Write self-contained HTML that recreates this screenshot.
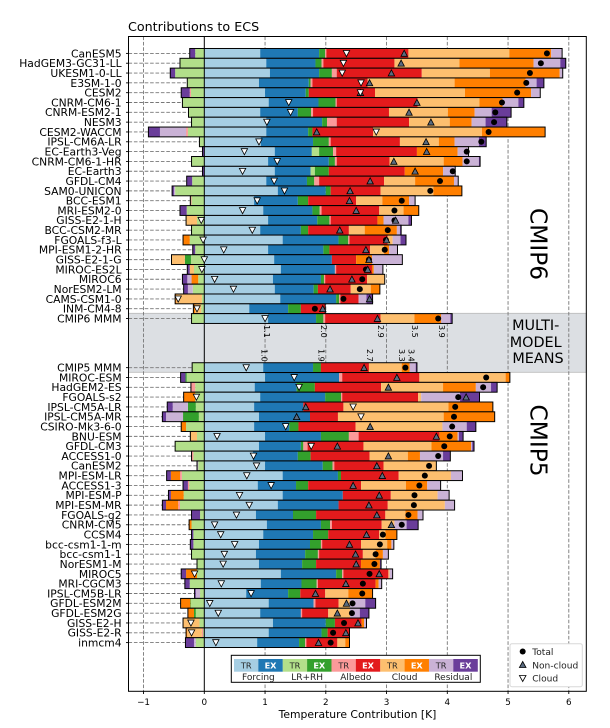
<!DOCTYPE html>
<html lang="en">
<head>
<meta charset="utf-8">
<title>Contributions to ECS</title>
<style>
html,body{margin:0;padding:0;background:#fff;width:610px;height:728px;overflow:hidden}
svg{display:block;font-family:"DejaVu Sans","Liberation Sans",sans-serif}
</style>
</head>
<body>
<svg id="chart" xmlns="http://www.w3.org/2000/svg" width="610" height="728" viewBox="0 0 610 728">
<rect x="0" y="0" width="610" height="728" fill="#fff"/>
<rect x="128.5" y="313.3" width="457.8" height="59" fill="#dcdfe3" stroke="#b8b8b8" stroke-width="0.8"/>
<g id="grid"></g>
<g id="bars"></g>
<g id="zero"></g>
<g id="marks"></g>
<g id="annot"></g>
<rect x="128.5" y="36.5" width="457.8" height="654.8" fill="none" stroke="#000" stroke-width="1"/>
<g id="axes"></g>
<text x="128" y="31" font-size="12.7" fill="#000">Contributions to ECS</text>
<text x="357.5" y="718" font-size="10.8" text-anchor="middle" fill="#000">Temperature Contribution [K]</text>
<text transform="translate(530.5,244) rotate(90)" font-size="23.3" text-anchor="middle" fill="#000">CMIP6</text>
<text transform="translate(530.5,440.5) rotate(90)" font-size="23.3" text-anchor="middle" fill="#000">CMIP5</text>
<text font-size="14.4" text-anchor="middle" fill="#000">
<tspan x="538" y="330">MULTI-</tspan>
<tspan x="538" y="347">MODEL</tspan>
<tspan x="538" y="363">MEANS</tspan>
</text>
<g id="key">
<rect x="231.3" y="655.3" width="249" height="27" fill="#fff" stroke="#000" stroke-width="1"/>
</g>
<g>
<rect x="510" y="643.7" width="72.3" height="43" rx="2" fill="#fff" stroke="#d8d8d8" stroke-width="1"/>
<circle cx="522.7" cy="651.5" r="3" fill="#000"/>
<polygon points="522.7,661.5 526,667.5 519.4,667.5" fill="#5a6b80" stroke="#000" stroke-width="0.8"/>
<polygon points="519.4,675.5 526,675.5 522.7,681.5" fill="#fff" stroke="#000" stroke-width="0.8"/>
<text x="532.2" y="655" font-size="9.1" fill="#222">Total</text>
<text x="532.2" y="668.3" font-size="9.1" fill="#222">Non-cloud</text>
<text x="532.2" y="681.3" font-size="9.1" fill="#222">Cloud</text>
</g>
</svg>
<script>
const models = ["CanESM5","HadGEM3-GC31-LL","UKESM1-0-LL","E3SM-1-0","CESM2","CNRM-CM6-1","CNRM-ESM2-1","NESM3","CESM2-WACCM","IPSL-CM6A-LR","EC-Earth3-Veg","CNRM-CM6-1-HR","EC-Earth3","GFDL-CM4","SAM0-UNICON","BCC-ESM1","MRI-ESM2-0","GISS-E2-1-H","BCC-CSM2-MR","FGOALS-f3-L","MPI-ESM1-2-HR","GISS-E2-1-G","MIROC-ES2L","MIROC6","NorESM2-LM","CAMS-CSM1-0","INM-CM4-8","CMIP6 MMM",
"CMIP5 MMM","MIROC-ESM","HadGEM2-ES","FGOALS-s2","IPSL-CM5A-LR","IPSL-CM5A-MR","CSIRO-Mk3-6-0","BNU-ESM","GFDL-CM3","ACCESS1-0","CanESM2","MPI-ESM-LR","ACCESS1-3","MPI-ESM-P","MPI-ESM-MR","FGOALS-g2","CNRM-CM5","CCSM4","bcc-csm1-1-m","bcc-csm1-1","NorESM1-M","MIROC5","MRI-CGCM3","IPSL-CM5B-LR","GFDL-ESM2M","GFDL-ESM2G","GISS-E2-H","GISS-E2-R","inmcm4"];
const forcingTR = [.92,1.02,1.08,.90,1.00,1.06,.92,1.02,1.02,.93,1.16,1.05,1.16,1.02,1.21,.82,.97,1.05,.92,1.29,1.05,1.15,1.26,1.13,1.16,1.25,.74,1.05,
.97,1.00,.83,.92,.82,.90,.82,1.00,.90,.80,1.00,1.29,.88,1.29,1.21,.85,1.03,.97,.90,.85,.90,1.26,.93,.69,1.06,.92,1.13,1.06,.87];
const forcingEX = [.97,.81,.81,.82,.67,.82,.62,.92,.69,.86,.61,1.00,.59,.67,.79,.72,.81,.81,.67,.92,.91,.95,.89,.79,.64,.92,.64,.79,
.82,1.22,.69,1.07,.81,.84,.58,.92,.69,.74,.95,.91,.63,.99,1.00,.61,.89,.82,.84,.81,.71,.91,.67,.69,.74,.67,.87,.87,.69];
const lrrhTR = [-.15,-.40,-.48,-.28,-.22,-.36,-.26,-.21,-.27,-.08,.12,-.21,.07,-.20,-.48,-.21,-.29,-.12,-.21,-.24,-.15,-.22,-.17,-.10,-.19,-.04,-.05,-.21,
-.20,-.29,-.15,-.15,-.14,-.09,-.30,-.12,-.48,-.18,-.10,-.37,-.25,-.34,-.40,-.07,-.21,-.18,-.18,-.21,-.12,-.12,-.24,-.07,-.22,-.14,-.08,-.02,-.14];
const lrrhEX = [.10,.10,.21,.03,.05,.28,.22,.08,.07,.26,.23,.10,.23,.12,.08,.17,.12,.20,.12,.16,.10,-.10,0,.05,.07,.05,.21,.12,
.13,-.02,.30,.26,-.13,-.26,.15,.46,.04,.21,.16,.05,.20,0,0,.38,.15,.25,.18,.21,.23,.10,.25,.20,-.01,-.03,.15,.10,.10];
const albedoTR = [.02,.03,.08,.03,-.02,.02,.03,.16,-.03,.03,.05,.03,0,.08,0,-.02,.03,.02,0,.02,0,0,.02,.02,0,.02,0,.03,
0,.05,-.07,.02,0,0,0,.16,.07,-.03,.03,-.03,-.02,0,-.03,0,.03,0,.02,.02,0,.02,.02,0,.03,.02,0,-.02,.02];
const albedoEX = [1.35,1.17,1.40,.91,1.09,1.33,1.25,1.19,1.00,1.14,1.33,.87,1.25,1.07,.82,.79,.95,.77,.67,.63,.67,.40,.59,.69,.54,.30,.40,.91,
.79,1.27,1.09,1.25,.66,.46,.94,1.33,.92,.97,.81,.95,.87,.79,.81,1.14,.82,.84,.64,.72,.74,.74,.95,.41,.38,.43,.44,.36,.51];
const cloudTR = [1.66,1.07,1.12,1.43,1.48,1.02,.97,.67,1.79,.64,0,.89,0,.51,.87,.43,.40,-.18,.26,.08,.23,-.22,-.07,.29,.33,-.42,-.10,.56,
.54,1.42,1.02,.05,1.73,1.74,1.43,-.11,1.12,.63,.87,.86,.74,.77,.94,.33,.21,.10,.43,.21,0,.02,0,.38,.18,.36,-.27,-.24,.13];
const cloudEX = [.69,1.22,1.15,1.17,1.09,.38,.44,.36,1.04,.26,.67,.31,.63,.64,.47,.44,.25,.10,.53,-.11,.08,.26,.03,-.11,.15,-.02,-.03,.44,
.13,.07,.54,-.19,.73,.84,-.08,.30,.65,.20,0,-.15,.35,-.21,-.20,.20,-.04,.19,.07,.12,.31,-.18,.05,.40,-.16,-.10,.04,-.02,.07];
const residualTR = [.18,.44,.05,.18,.15,.26,.28,.23,-.43,.40,.18,.27,.20,.07,-.02,.10,0,.41,.05,.13,.14,.50,.15,-.07,-.08,.13,0,.15,
.10,0,.25,.64,-.25,-.28,.40,.02,.02,.38,-.01,.19,.22,.19,.16,.09,.20,0,.04,.09,0,.05,.05,-.07,.26,.16,.03,0,-.03];
const residualEX = [-.09,.09,-.08,.12,-.14,.09,.32,.35,-.19,.12,-.03,.02,-.03,-.09,-.03,0,-.11,.05,.02,.09,-.04,0,-.04,-.08,-.07,.10,0,.03,
.02,-.08,.10,.32,-.09,-.06,.15,.07,.03,.12,-.01,-.07,-.08,-.04,-.06,-.14,.19,-.03,-.05,0,.02,-.08,-.08,-.02,.17,.15,.01,0,-.14];
const totalECS = [5.64,5.54,5.36,5.30,5.15,4.90,4.79,4.77,4.68,4.56,4.32,4.32,4.09,3.88,3.72,3.25,3.13,3.13,3.02,2.99,2.97,2.71,2.66,2.60,2.56,2.29,1.82,3.85,
3.31,4.64,4.59,4.18,4.13,4.11,4.08,4.04,3.95,3.85,3.70,3.63,3.54,3.46,3.45,3.36,3.25,2.94,2.89,2.82,2.80,2.72,2.61,2.60,2.44,2.43,2.30,2.12,2.08];
const nonCloud = [3.29,3.24,3.08,2.72,2.57,3.50,3.37,3.73,1.85,3.65,3.66,3.12,3.47,2.73,2.40,2.39,2.50,3.15,2.23,3.00,2.66,2.71,2.69,2.43,2.07,2.72,1.95,2.85,
2.63,3.17,3.03,4.31,1.67,1.52,2.73,3.82,2.19,3.03,2.84,2.93,2.45,2.88,2.71,2.84,3.08,2.67,2.39,2.49,2.50,2.88,2.33,1.83,2.34,2.19,2.53,2.33,1.88];
const cloudOnly = [2.34,2.29,2.27,2.58,2.57,1.39,1.42,1.03,2.83,.90,.66,1.20,.63,1.15,1.32,.87,.63,-.05,.79,-.02,.32,0,-.04,.17,.48,-.43,-.12,1.00,
.69,1.48,1.56,-.13,2.45,2.58,1.34,.21,1.76,.81,.86,.70,1.10,.58,.74,.53,.17,.27,.50,.33,.31,-.16,.28,.77,.09,.23,-.22,-.21,.19];
const xTicks = [-1,0,1,2,3,4,5,6];
const cmip6Labels = ["1.1","2.0","2.9","3.5","3.9"];
const cmip6Spots = [1.03,1.97,2.91,3.47,3.91];
const cmip5Labels = ["1.0","1.9","2.7","3.3","3.4"];
const cmip5Spots = [.99,1.93,2.73,3.25,3.41];
const seriesNames = ["forcing-tr","forcing-ex","lr-rh-tr","lr-rh-ex","albedo-tr","albedo-ex","cloud-tr","cloud-ex","residual-tr","residual-ex"];
const seriesColors = ["#a6cee3","#1f78b4","#b2df8a","#33a02c","#fb9a99","#e31a1c","#fdbf6f","#ff7f00","#cab2d6","#6a3d9a"];
const keyGroups = ["Forcing","LR+RH","Albedo","Cloud","Residual"];

const series = [forcingTR,forcingEX,lrrhTR,lrrhEX,albedoTR,albedoEX,cloudTR,cloudEX,residualTR,residualEX];
const NS = "http://www.w3.org/2000/svg";
const X = v => 204.3 + 60.75 * v;
const rowOf = i => i < 28 ? i : i + 4;
const Y = i => 53.4 + 9.82 * rowOf(i);
const BAR_H = 9.82;

function make(tag, attrs, parent, text) {
  const el = document.createElementNS(NS, tag);
  for (const k in attrs) el.setAttribute(k, attrs[k]);
  if (text !== undefined) el.textContent = text;
  parent.appendChild(el);
  return el;
}
const gGrid = document.getElementById("grid");
const gBars = document.getElementById("bars");
const gZero = document.getElementById("zero");
const gMarks = document.getElementById("marks");
const gAnnot = document.getElementById("annot");
const gAxes = document.getElementById("axes");
const gKey = document.getElementById("key");
const GRID = {stroke:"#777", "stroke-width":0.9, "stroke-dasharray":"3.6,1.8"};

xTicks.forEach(t => {
  if (t !== 0) {
    const gl = make("line", Object.assign({x1:X(t), x2:X(t), y1:36.5, y2:691.3}, GRID), gGrid);
    
    
  }
  const tk = make("line", {x1:X(t), x2:X(t), y1:691.3, y2:694, stroke:"#000", "stroke-width":0.9}, gAxes);
  
  
  const lb = make("text", {x:X(t), y:705, "font-size":8.8, "text-anchor":"middle", fill:"#000"}, gAxes, t < 0 ? "\u2212" + (-t) : String(t));
  
  
});

models.forEach((name, i) => {
  const y = Y(i);
  const hl = make("line", Object.assign({x1:128.5, x2:X(0), y1:y, y2:y}, GRID), gGrid);
  
  
  const tk = make("line", {x1:126, x2:128.5, y1:y, y2:y, stroke:"#000", "stroke-width":0.9}, gAxes);
  
  
  const lb = make("text", {x:121.6, y:y + 3.9, "font-size":10.75, "text-anchor":"end", fill:"#000"}, gAxes, name);
  
  

  let pos = 0, neg = 0;
  series.forEach((s, k) => {
    const v = s[i];
    if (!v) return;
    const a = v > 0 ? pos : neg + v;
    if (v > 0) pos += v; else neg += v;
    const r = make("rect", {x:X(a), y:y - BAR_H / 2, width:Math.abs(v) * 60.75, height:BAR_H, fill:seriesColors[k]}, gBars);
    
    
  });
  const o = make("rect", {x:X(neg), y:y - BAR_H / 2, width:(pos - neg) * 60.75, height:BAR_H, fill:"none", stroke:"#000", "stroke-width":1}, gBars);
  
  
});

const zl = make("line", {x1:X(0), x2:X(0), y1:36.5, y2:691.3, stroke:"#000", "stroke-width":1}, gZero);



models.forEach((name, i) => {
  const y = Y(i);
  const c = make("circle", {cx:X(totalECS[i]), cy:y, r:3, fill:"#000"}, gMarks);
  
  
  const nx = X(nonCloud[i]);
  const up = make("polygon", {points:`${nx},${y-3.2} ${nx+3.2},${y+2.9} ${nx-3.2},${y+2.9}`, fill:"#5a6b80", stroke:"#000", "stroke-width":0.8}, gMarks);
  
  
  const dx = X(cloudOnly[i]);
  const dn = make("polygon", {points:`${dx-3.2},${y-2.9} ${dx+3.2},${y-2.9} ${dx},${y+3.2}`, fill:"#fff", stroke:"#000", "stroke-width":0.8}, gMarks);
  
  
});

function cumLabels(labels, spots, y0) {
  labels.forEach((t, i) => {
    const el = make("text", {transform:`translate(${X(spots[i]) - 2.9},${y0}) rotate(90)`, "font-size":8, fill:"#000"}, gAnnot, t);
    
    
  });
}
cumLabels(cmip6Labels, cmip6Spots, 325);
cumLabels(cmip5Labels, cmip5Spots, 349);

const cellW = 24.37;
seriesColors.forEach((col, k) => {
  const x = 234 + k * cellW;
  const cell = make("rect", {x:x, y:659, width:cellW + 0.1, height:12.7, fill:col}, gKey);
  
  
  const isEx = k % 2 === 1;
  const tx = make("text", {x:x + cellW / 2, y:668.3, "font-size":8.2, "text-anchor":"middle", fill:isEx ? "#fff" : "#222", "font-weight":isEx ? "bold" : "normal"}, gKey, isEx ? "EX" : "TR");
  
  
});
keyGroups.forEach((g, k) => {
  const el = make("text", {x:234 + (2 * k + 1) * cellW, y:680, "font-size":9, "text-anchor":"middle", fill:"#222"}, gKey, g);
  
  
});
</script>
</body>
</html>
